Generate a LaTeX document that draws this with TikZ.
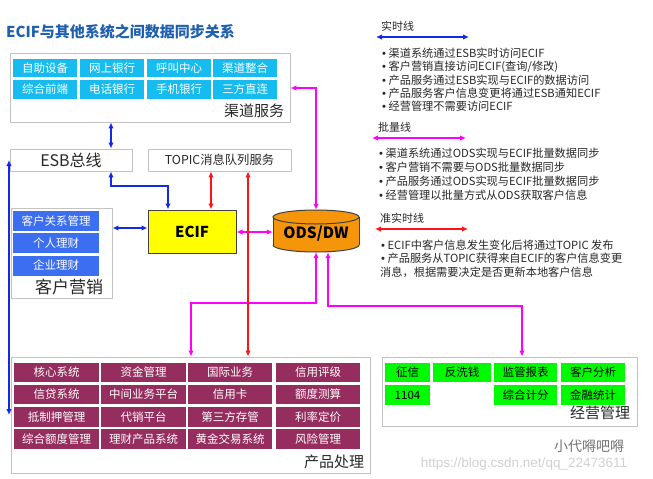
\documentclass[tikz,border=0pt]{standalone}
\usepackage{fontspec}
\setmainfont{Noto Sans CJK SC}
\newfontfamily\urlfont{Liberation Sans}
\newcommand\legbul{{\urlfont •}\hspace{2.5pt}}
\usetikzlibrary{arrows.meta}
\definecolor{framegray}{RGB}{195,195,195}
\definecolor{chancyan}{RGB}{22,187,240}
\definecolor{mktblue}{RGB}{59,110,240}
\definecolor{prodpurple}{RGB}{150,45,95}
\definecolor{mgmtgreen}{RGB}{0,250,0}
\definecolor{ecifyellow}{RGB}{255,255,0}
\definecolor{odsorange}{RGB}{245,150,10}
\definecolor{titleblue}{RGB}{31,95,175}
\definecolor{cblue}{RGB}{20,40,230}
\definecolor{cmag}{RGB}{255,0,255}
\definecolor{cred}{RGB}{255,20,20}
\definecolor{txt}{RGB}{40,40,40}
\begin{document}
\begin{tikzpicture}[x=1pt,y=-1pt,
  frame/.style={draw=framegray, line width=0.9pt, fill=white, rectangle, inner sep=0pt},
  cell/.style={rectangle, inner sep=0pt, text=white, font=\fontsize{11.5}{12}\selectfont},
  chancell/.style={cell, fill=chancyan, minimum width=64pt, minimum height=18.5pt},
  mktcell/.style={cell, fill=mktblue, minimum width=86pt, minimum height=20pt},
  prodcell/.style={cell, fill=prodpurple, minimum height=19.5pt},
  mgmtcell/.style={cell, fill=mgmtgreen, text=black, minimum height=19.5pt},
  boxlabel/.style={inner sep=0pt, text=txt, font=\fontsize{15}{16}\selectfont},
  legtitle/.style={inner sep=0pt, anchor=west, text=txt, font=\fontsize{11}{12}\selectfont},
  legitem/.style={inner sep=0pt, anchor=west, text=txt, font=\fontsize{11.2}{12}\selectfont},
  conn/.style={line width=1.8pt, {Latex[length=6pt,width=5.5pt]}-{Latex[length=6pt,width=5.5pt]}},
  bconn/.style={conn, draw=cblue},
  mconn/.style={conn, draw=cmag},
  rconn/.style={conn, draw=cred}
]
\useasboundingbox[fill=white] (0,0) rectangle (653,479);

% title
\node[inner sep=0pt, anchor=west, text=titleblue, font=\fontsize{15}{17}\selectfont\bfseries] (title) at (6,31.5) {ECIF与其他系统之间数据同步关系};

% channel services
\node[frame, minimum width=280pt, minimum height=69pt] (chan) at (150,87.5) {};
\node[chancell] (c11) at (45,68) {自助设备};
\node[chancell] (c12) at (112,68) {网上银行};
\node[chancell] (c13) at (179,68) {呼叫中心};
\node[chancell] (c14) at (245,68) {渠道整合};
\node[chancell] (c21) at (45,89.5) {综合前端};
\node[chancell] (c22) at (112,89.5) {电话银行};
\node[chancell] (c23) at (179,89.5) {手机银行};
\node[chancell] (c24) at (245,89.5) {三方直连};
\node[boxlabel] (chanlab) at (254,111) {渠道服务};

% ESB and TOPIC
\node[frame, minimum width=122pt, minimum height=22pt, font=\fontsize{16}{17}\selectfont, text=txt] (esb) at (71,160) {ESB总线};
\node[frame, minimum width=143pt, minimum height=22pt, font=\fontsize{12.3}{13}\selectfont, text=txt] (topic) at (219.5,160) {TOPIC消息队列服务};

% ECIF
\node[draw=black!75, line width=1pt, fill=ecifyellow, minimum width=88pt, minimum height=43pt, inner sep=0pt, font=\fontsize{15}{16}\selectfont\bfseries] (ecif) at (192,231.5) {ECIF};

% ODS/DW cylinder
\fill[odsorange] (273,217) rectangle (359,245);
\fill[odsorange] (316,245) ellipse [x radius=43, y radius=7];
\begin{scope}
  \clip (265,245) rectangle (367,258);
  \draw[black!75, line width=1pt] (316,245) ellipse [x radius=43, y radius=7];
\end{scope}
\draw[black!75, line width=1pt] (273,217) -- (273,245) (359,217) -- (359,245);
\draw[black!75, line width=1pt, fill=odsorange] (316,217) ellipse [x radius=43, y radius=7];
\node[inner sep=0pt, minimum width=86pt, minimum height=42pt] (ods) at (316,231) {};
\node[inner sep=0pt, font=\fontsize{15.5}{16}\selectfont\bfseries] (odstext) at (316,234) {ODS/DW};

% customer marketing
\node[frame, minimum width=101pt, minimum height=90pt] (mkt) at (61.5,253) {};
\node[mktcell] (k1) at (56,221) {客户关系管理};
\node[mktcell] (k2) at (56,243) {个人理财};
\node[mktcell] (k3) at (56,265.5) {企业理财};
\node[boxlabel, font=\fontsize{17}{18}\selectfont] (mktlab) at (69,287) {客户营销};

% product processing
\node[frame, minimum width=359pt, minimum height=116pt] (prod) at (190.5,415) {};
\node[prodcell, minimum width=85pt] (p11) at (56.5,372.5) {核心系统};
\node[prodcell, minimum width=85pt] (p12) at (143.5,372.5) {资金管理};
\node[prodcell, minimum width=84pt] (p13) at (230,372.5) {国际业务};
\node[prodcell, minimum width=84pt] (p14) at (318,372.5) {信用评级};
\node[prodcell, minimum width=85pt] (p21) at (56.5,394.5) {信贷系统};
\node[prodcell, minimum width=85pt] (p22) at (143.5,394.5) {中间业务平台};
\node[prodcell, minimum width=84pt] (p23) at (230,394.5) {信用卡};
\node[prodcell, minimum width=84pt] (p24) at (318,394.5) {额度测算};
\node[prodcell, minimum width=85pt] (p31) at (56.5,417) {抵制押管理};
\node[prodcell, minimum width=85pt] (p32) at (143.5,417) {代销平台};
\node[prodcell, minimum width=84pt] (p33) at (230,417) {第三方存管};
\node[prodcell, minimum width=84pt] (p34) at (318,417) {利率定价};
\node[prodcell, minimum width=85pt] (p41) at (56.5,439) {综合额度管理};
\node[prodcell, minimum width=85pt] (p42) at (143.5,439) {理财产品系统};
\node[prodcell, minimum width=84pt] (p43) at (230,439) {黄金交易系统};
\node[prodcell, minimum width=84pt] (p44) at (318,439) {风险管理};
\node[boxlabel] (prodlab) at (334,462) {产品处理};

% management
\node[frame, minimum width=255pt, minimum height=69pt] (mgmt) at (509.5,391.5) {};
\node[mgmtcell, minimum width=45pt] (g11) at (407.5,372.5) {征信};
\node[mgmtcell, minimum width=58pt] (g12) at (462,372.5) {反洗钱};
\node[mgmtcell, minimum width=63pt] (g13) at (525.5,372.5) {监管报表};
\node[mgmtcell, minimum width=64pt] (g14) at (593,372.5) {客户分析};
\node[mgmtcell, minimum width=45pt] (g21) at (407.5,395) {1104};
\node[mgmtcell, minimum width=63pt] (g23) at (525.5,395) {综合计分};
\node[mgmtcell, minimum width=64pt] (g24) at (593,395) {金融统计};
\node[boxlabel] (mgmtlab) at (600,413) {经营管理};

% connectors
\coordinate (bx) at (111,0);
\draw[bconn] (chan.south -| bx) -- (esb.north -| bx);
\coordinate (b2) at (111,186);
\coordinate (b3) at (168,186);
\draw[bconn] (esb.south -| b2) -- (b2) -- (b3) -- (ecif.north -| b3);
\coordinate (lx) at (9,0);
\draw[bconn] (esb.west -| lx) -- (prod.west -| lx);
\coordinate (by) at (0,228);
\draw[bconn] (mkt.east |- by) -- (ecif.west |- by);

\coordinate (my) at (0,232);
\draw[mconn] (ecif.east |- my) -- (ods.west |- my);
\coordinate (m0) at (316,88);
\draw[mconn] (chan.east |- m0) -- (m0) -- (ods.north);
\coordinate (m1) at (316,303);
\coordinate (m2) at (191,303);
\draw[mconn] (ods.south) -- (m1) -- (m2) -- (prod.north -| m2);
\coordinate (m3) at (328,306);
\coordinate (m4) at (522,306);
\draw[mconn] (ods.south -| m3) -- (m3) -- (m4) -- (mgmt.north -| m4);

\coordinate (r1) at (211,0);
\draw[rconn] (topic.south -| r1) -- (ecif.north -| r1);
\coordinate (r2) at (248,0);
\draw[rconn] (topic.south -| r2) -- (prod.north -| r2);

% legend
\node[legtitle] (lt1) at (381,26) {实时线};
\coordinate (lb1) at (376,37);
\coordinate (lb2) at (469,37);
\draw[bconn] (lb1) -- (lb2);
\node[legitem] (l11) at (382,53) {\legbul 渠道系统通过ESB实时访问ECIF};
\node[legitem] (l12) at (382,66.5) {\legbul 客户营销直接访问ECIF(查询/修改)};
\node[legitem] (l13) at (382,80) {\legbul 产品服务通过ESB实现与ECIF的数据访问};
\node[legitem] (l14) at (382,93) {\legbul 产品服务客户信息变更将通过ESB通知ECIF};
\node[legitem] (l15) at (382,106.5) {\legbul 经营管理不需要访问ECIF};

\node[legtitle] (lt2) at (378,127) {批量线};
\coordinate (lm1) at (372,138);
\coordinate (lm2) at (466,138);
\draw[mconn] (lm1) -- (lm2);
\node[legitem] (l21) at (379,153) {\legbul 渠道系统通过ODS实现与ECIF批量数据同步};
\node[legitem] (l22) at (379,167) {\legbul 客户营销不需要与ODS批量数据同步};
\node[legitem] (l23) at (379,181) {\legbul 产品服务通过ODS实现与ECIF批量数据同步};
\node[legitem] (l24) at (379,195) {\legbul 经营管理以批量方式从ODS获取客户信息};

\node[legtitle] (lt3) at (380,218) {准实时线};
\coordinate (lr1) at (375,229);
\coordinate (lr2) at (468,229);
\draw[rconn] (lr1) -- (lr2);
\node[legitem] (l31) at (381,245) {\legbul ECIF中客户信息发生变化后将通过TOPIC 发布};
\node[legitem] (l32) at (381,258.5) {\legbul 产品服务从TOPIC获得来自ECIF的客户信息变更};
\node[legitem] (l33) at (380,272) {消息，根据需要决定是否更新本地客户信息};

% watermark
\node[inner sep=0pt, text=black!55, font=\fontsize{14}{15}\selectfont] (wm1) at (589,446.5) {小代嘚吧嘚};
\node[inner sep=0pt, text=black!18, font=\urlfont\fontsize{13.5}{15}\selectfont] (wm2) at (524,464) {https://blog.csdn.net/qq\_22473611};
\end{tikzpicture}
\end{document}
